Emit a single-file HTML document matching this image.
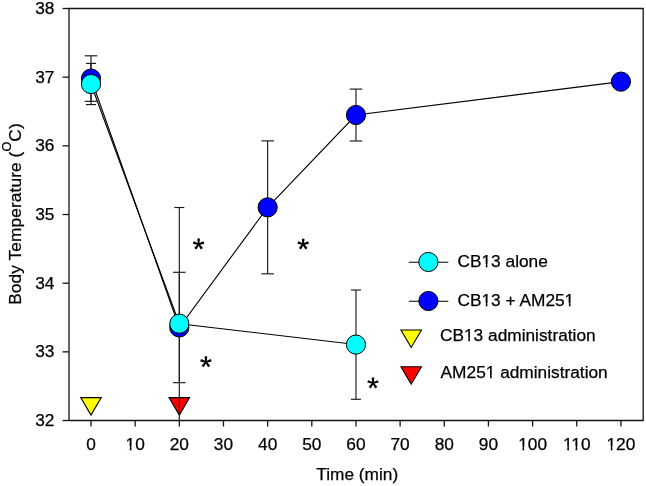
<!DOCTYPE html>
<html><head><meta charset="utf-8"><style>
html,body{margin:0;padding:0;background:#fff;}
svg{display:block;will-change:transform;}
text{font-family:"Liberation Sans", sans-serif;font-size:17.3px;fill:#000;stroke:#000;stroke-width:0.25px;}
</style></head><body>
<svg width="646" height="486" viewBox="0 0 646 486">
<rect width="646" height="486" fill="#fff"/>
<path d="M69,420.5V8.5H643.2V420.5H69Z" fill="none" stroke="#151515" stroke-width="1.3" stroke-linejoin="round"/>
<line x1="62.6" y1="420.52" x2="69" y2="420.52" stroke="#151515" stroke-width="1.3"/>
<text x="54.4" y="426.02" text-anchor="end">32</text>
<line x1="62.6" y1="351.85" x2="69" y2="351.85" stroke="#151515" stroke-width="1.3"/>
<text x="54.4" y="357.35" text-anchor="end">33</text>
<line x1="62.6" y1="283.18" x2="69" y2="283.18" stroke="#151515" stroke-width="1.3"/>
<text x="54.4" y="288.68" text-anchor="end">34</text>
<line x1="62.6" y1="214.51" x2="69" y2="214.51" stroke="#151515" stroke-width="1.3"/>
<text x="54.4" y="220.01" text-anchor="end">35</text>
<line x1="62.6" y1="145.84" x2="69" y2="145.84" stroke="#151515" stroke-width="1.3"/>
<text x="54.4" y="151.34" text-anchor="end">36</text>
<line x1="62.6" y1="77.17" x2="69" y2="77.17" stroke="#151515" stroke-width="1.3"/>
<text x="54.4" y="82.67" text-anchor="end">37</text>
<line x1="62.6" y1="8.50" x2="69" y2="8.50" stroke="#151515" stroke-width="1.3"/>
<text x="54.4" y="14.00" text-anchor="end">38</text>
<line x1="91.00" y1="420.5" x2="91.00" y2="426.5" stroke="#151515" stroke-width="1.3"/>
<text x="91.00" y="449.6" text-anchor="middle">0</text>
<line x1="135.16" y1="420.5" x2="135.16" y2="426.5" stroke="#151515" stroke-width="1.3"/>
<text x="135.16" y="449.6" text-anchor="middle">10</text>
<line x1="179.32" y1="420.5" x2="179.32" y2="426.5" stroke="#151515" stroke-width="1.3"/>
<text x="179.32" y="449.6" text-anchor="middle">20</text>
<line x1="223.48" y1="420.5" x2="223.48" y2="426.5" stroke="#151515" stroke-width="1.3"/>
<text x="223.48" y="449.6" text-anchor="middle">30</text>
<line x1="267.64" y1="420.5" x2="267.64" y2="426.5" stroke="#151515" stroke-width="1.3"/>
<text x="267.64" y="449.6" text-anchor="middle">40</text>
<line x1="311.80" y1="420.5" x2="311.80" y2="426.5" stroke="#151515" stroke-width="1.3"/>
<text x="311.80" y="449.6" text-anchor="middle">50</text>
<line x1="355.96" y1="420.5" x2="355.96" y2="426.5" stroke="#151515" stroke-width="1.3"/>
<text x="355.96" y="449.6" text-anchor="middle">60</text>
<line x1="400.12" y1="420.5" x2="400.12" y2="426.5" stroke="#151515" stroke-width="1.3"/>
<text x="400.12" y="449.6" text-anchor="middle">70</text>
<line x1="444.28" y1="420.5" x2="444.28" y2="426.5" stroke="#151515" stroke-width="1.3"/>
<text x="444.28" y="449.6" text-anchor="middle">80</text>
<line x1="488.44" y1="420.5" x2="488.44" y2="426.5" stroke="#151515" stroke-width="1.3"/>
<text x="488.44" y="449.6" text-anchor="middle">90</text>
<line x1="532.60" y1="420.5" x2="532.60" y2="426.5" stroke="#151515" stroke-width="1.3"/>
<text x="532.60" y="449.6" text-anchor="middle">100</text>
<line x1="576.76" y1="420.5" x2="576.76" y2="426.5" stroke="#151515" stroke-width="1.3"/>
<text x="576.76" y="449.6" text-anchor="middle">110</text>
<line x1="620.92" y1="420.5" x2="620.92" y2="426.5" stroke="#151515" stroke-width="1.3"/>
<text x="620.92" y="449.6" text-anchor="middle">120</text>
<text x="357.2" y="479.8" text-anchor="middle">Time (min)</text>
<text transform="translate(20.5,214.0) rotate(-90)" text-anchor="middle" font-size="17.5" letter-spacing="0.1">Body Temperature (<tspan dy="-9.6" font-size="12.6">O</tspan><tspan dy="9.6">C)</tspan></text>
<polygon points="80.75,397.60 101.25,397.60 91.00,415.10" fill="#ffff00" stroke="#000" stroke-width="1.1" stroke-linejoin="miter"/>
<polygon points="169.07,397.60 189.57,397.60 179.32,415.10" fill="#ff0000" stroke="#000" stroke-width="1.1" stroke-linejoin="miter"/>
<line x1="91.00" y1="55.80" x2="91.00" y2="101.30" stroke="#1a1a1a" stroke-width="1.15"/><line x1="84.70" y1="55.80" x2="97.30" y2="55.80" stroke="#1a1a1a" stroke-width="1.15"/><line x1="84.70" y1="101.30" x2="97.30" y2="101.30" stroke="#1a1a1a" stroke-width="1.15"/>
<line x1="179.32" y1="272.30" x2="179.32" y2="382.70" stroke="#1a1a1a" stroke-width="1.15"/><line x1="173.02" y1="272.30" x2="185.62" y2="272.30" stroke="#1a1a1a" stroke-width="1.15"/><line x1="173.02" y1="382.70" x2="185.62" y2="382.70" stroke="#1a1a1a" stroke-width="1.15"/>
<line x1="267.64" y1="140.90" x2="267.64" y2="273.80" stroke="#1a1a1a" stroke-width="1.15"/><line x1="261.34" y1="140.90" x2="273.94" y2="140.90" stroke="#1a1a1a" stroke-width="1.15"/><line x1="261.34" y1="273.80" x2="273.94" y2="273.80" stroke="#1a1a1a" stroke-width="1.15"/>
<line x1="355.96" y1="89.10" x2="355.96" y2="141.00" stroke="#1a1a1a" stroke-width="1.15"/><line x1="349.66" y1="89.10" x2="362.26" y2="89.10" stroke="#1a1a1a" stroke-width="1.15"/><line x1="349.66" y1="141.00" x2="362.26" y2="141.00" stroke="#1a1a1a" stroke-width="1.15"/>
<line x1="91.00" y1="63.40" x2="91.00" y2="104.60" stroke="#1a1a1a" stroke-width="1.15"/><line x1="86.00" y1="63.40" x2="96.00" y2="63.40" stroke="#1a1a1a" stroke-width="1.15"/><line x1="86.00" y1="104.60" x2="96.00" y2="104.60" stroke="#1a1a1a" stroke-width="1.15"/>
<line x1="179.32" y1="207.50" x2="179.32" y2="420.00" stroke="#1a1a1a" stroke-width="1.15"/><line x1="174.32" y1="207.50" x2="184.32" y2="207.50" stroke="#1a1a1a" stroke-width="1.15"/>
<line x1="355.96" y1="290.00" x2="355.96" y2="399.30" stroke="#1a1a1a" stroke-width="1.15"/><line x1="350.96" y1="290.00" x2="360.96" y2="290.00" stroke="#1a1a1a" stroke-width="1.15"/><line x1="350.96" y1="399.30" x2="360.96" y2="399.30" stroke="#1a1a1a" stroke-width="1.15"/>
<polyline points="91.00,78.54 179.32,327.47 267.64,207.37 355.96,115.01 620.92,81.63" fill="none" stroke="#000" stroke-width="1.1"/>
<polyline points="91.00,84.04 179.32,323.70 355.96,344.57" fill="none" stroke="#000" stroke-width="1.1"/>
<circle cx="91.00" cy="78.54" r="9.6" fill="#0000ff" stroke="#000" stroke-width="1"/>
<circle cx="179.32" cy="327.47" r="9.6" fill="#0000ff" stroke="#000" stroke-width="1"/>
<circle cx="267.64" cy="207.37" r="9.6" fill="#0000ff" stroke="#000" stroke-width="1"/>
<circle cx="355.96" cy="115.01" r="9.6" fill="#0000ff" stroke="#000" stroke-width="1"/>
<circle cx="620.92" cy="81.63" r="9.6" fill="#0000ff" stroke="#000" stroke-width="1"/>
<circle cx="91.00" cy="84.04" r="9.6" fill="#00ffff" stroke="#000" stroke-width="1"/>
<circle cx="179.32" cy="323.70" r="9.6" fill="#00ffff" stroke="#000" stroke-width="1"/>
<circle cx="355.96" cy="344.57" r="9.6" fill="#00ffff" stroke="#000" stroke-width="1"/>
<path d="M199.40,244.20L199.90,238.60L197.30,238.60L197.80,244.20ZM198.85,244.96L204.33,243.71L203.52,241.23L198.35,243.44ZM198.85,243.44L193.68,241.23L192.87,243.71L198.35,244.96ZM197.95,244.67L200.84,249.49L202.94,247.97L199.25,243.73ZM197.95,243.73L194.26,247.97L196.36,249.49L199.25,244.67Z" fill="#000"/>
<path d="M304.00,244.30L304.50,238.70L301.90,238.70L302.40,244.30ZM303.45,245.06L308.93,243.81L308.12,241.33L302.95,243.54ZM303.45,243.54L298.28,241.33L297.47,243.81L302.95,245.06ZM302.55,244.77L305.44,249.59L307.54,248.07L303.85,243.83ZM302.55,243.83L298.86,248.07L300.96,249.59L303.85,244.77Z" fill="#000"/>
<path d="M206.70,361.90L207.20,356.30L204.60,356.30L205.10,361.90ZM206.15,362.66L211.63,361.41L210.82,358.93L205.65,361.14ZM206.15,361.14L200.98,358.93L200.17,361.41L205.65,362.66ZM205.25,362.37L208.14,367.19L210.24,365.67L206.55,361.43ZM205.25,361.43L201.56,365.67L203.66,367.19L206.55,362.37Z" fill="#000"/>
<path d="M373.80,383.10L374.30,377.50L371.70,377.50L372.20,383.10ZM373.25,383.86L378.73,382.61L377.92,380.13L372.75,382.34ZM373.25,382.34L368.08,380.13L367.27,382.61L372.75,383.86ZM372.35,383.57L375.24,388.39L377.34,386.87L373.65,382.63ZM372.35,382.63L368.66,386.87L370.76,388.39L373.65,383.57Z" fill="#000"/>
<line x1="408.8" y1="262.2" x2="448.3" y2="262.2" stroke="#000" stroke-width="1.1"/>
<circle cx="428.4" cy="262" r="9.6" fill="#00ffff" stroke="#000" stroke-width="1"/>
<text x="457.5" y="267.4">CB13 alone</text>
<line x1="408.8" y1="301.2" x2="448.3" y2="301.2" stroke="#000" stroke-width="1.1"/>
<circle cx="428.4" cy="301" r="9.6" fill="#0000ff" stroke="#000" stroke-width="1"/>
<text x="457.5" y="306.2">CB13 + AM251</text>
<polygon points="400.95,330.00 421.45,330.00 411.20,347.50" fill="#ffff00" stroke="#000" stroke-width="1.1" stroke-linejoin="miter"/>
<text x="440" y="341.1">CB13 administration</text>
<polygon points="400.95,366.70 421.45,366.70 411.20,384.20" fill="#ff0000" stroke="#000" stroke-width="1.1" stroke-linejoin="miter"/>
<text x="440.6" y="377.9">AM251 administration</text>
<rect x="125.54" y="446.14" width="4.26" height="4.67" fill="#fff"/>
<rect x="131.51" y="446.14" width="3.72" height="4.67" fill="#fff"/>
<rect x="518.18" y="446.14" width="4.26" height="4.67" fill="#fff"/>
<rect x="524.15" y="446.14" width="3.72" height="4.67" fill="#fff"/>
<rect x="562.98" y="446.14" width="4.26" height="4.67" fill="#fff"/>
<rect x="568.95" y="446.14" width="3.72" height="4.67" fill="#fff"/>
<rect x="571.29" y="446.14" width="4.26" height="4.67" fill="#fff"/>
<rect x="577.26" y="446.14" width="3.72" height="4.67" fill="#fff"/>
<rect x="606.50" y="446.14" width="4.26" height="4.67" fill="#fff"/>
<rect x="612.47" y="446.14" width="3.72" height="4.67" fill="#fff"/>
<rect x="481.50" y="263.94" width="4.26" height="4.67" fill="#fff"/>
<rect x="487.47" y="263.94" width="3.72" height="4.67" fill="#fff"/>
<rect x="481.50" y="302.74" width="4.26" height="4.67" fill="#fff"/>
<rect x="487.47" y="302.74" width="3.72" height="4.67" fill="#fff"/>
<rect x="564.61" y="302.74" width="4.26" height="4.67" fill="#fff"/>
<rect x="570.58" y="302.74" width="3.72" height="4.67" fill="#fff"/>
<rect x="464.00" y="337.64" width="4.26" height="4.67" fill="#fff"/>
<rect x="469.97" y="337.64" width="3.72" height="4.67" fill="#fff"/>
<rect x="485.74" y="374.44" width="4.26" height="4.67" fill="#fff"/>
<rect x="491.71" y="374.44" width="3.72" height="4.67" fill="#fff"/>
</svg>
</body></html>
